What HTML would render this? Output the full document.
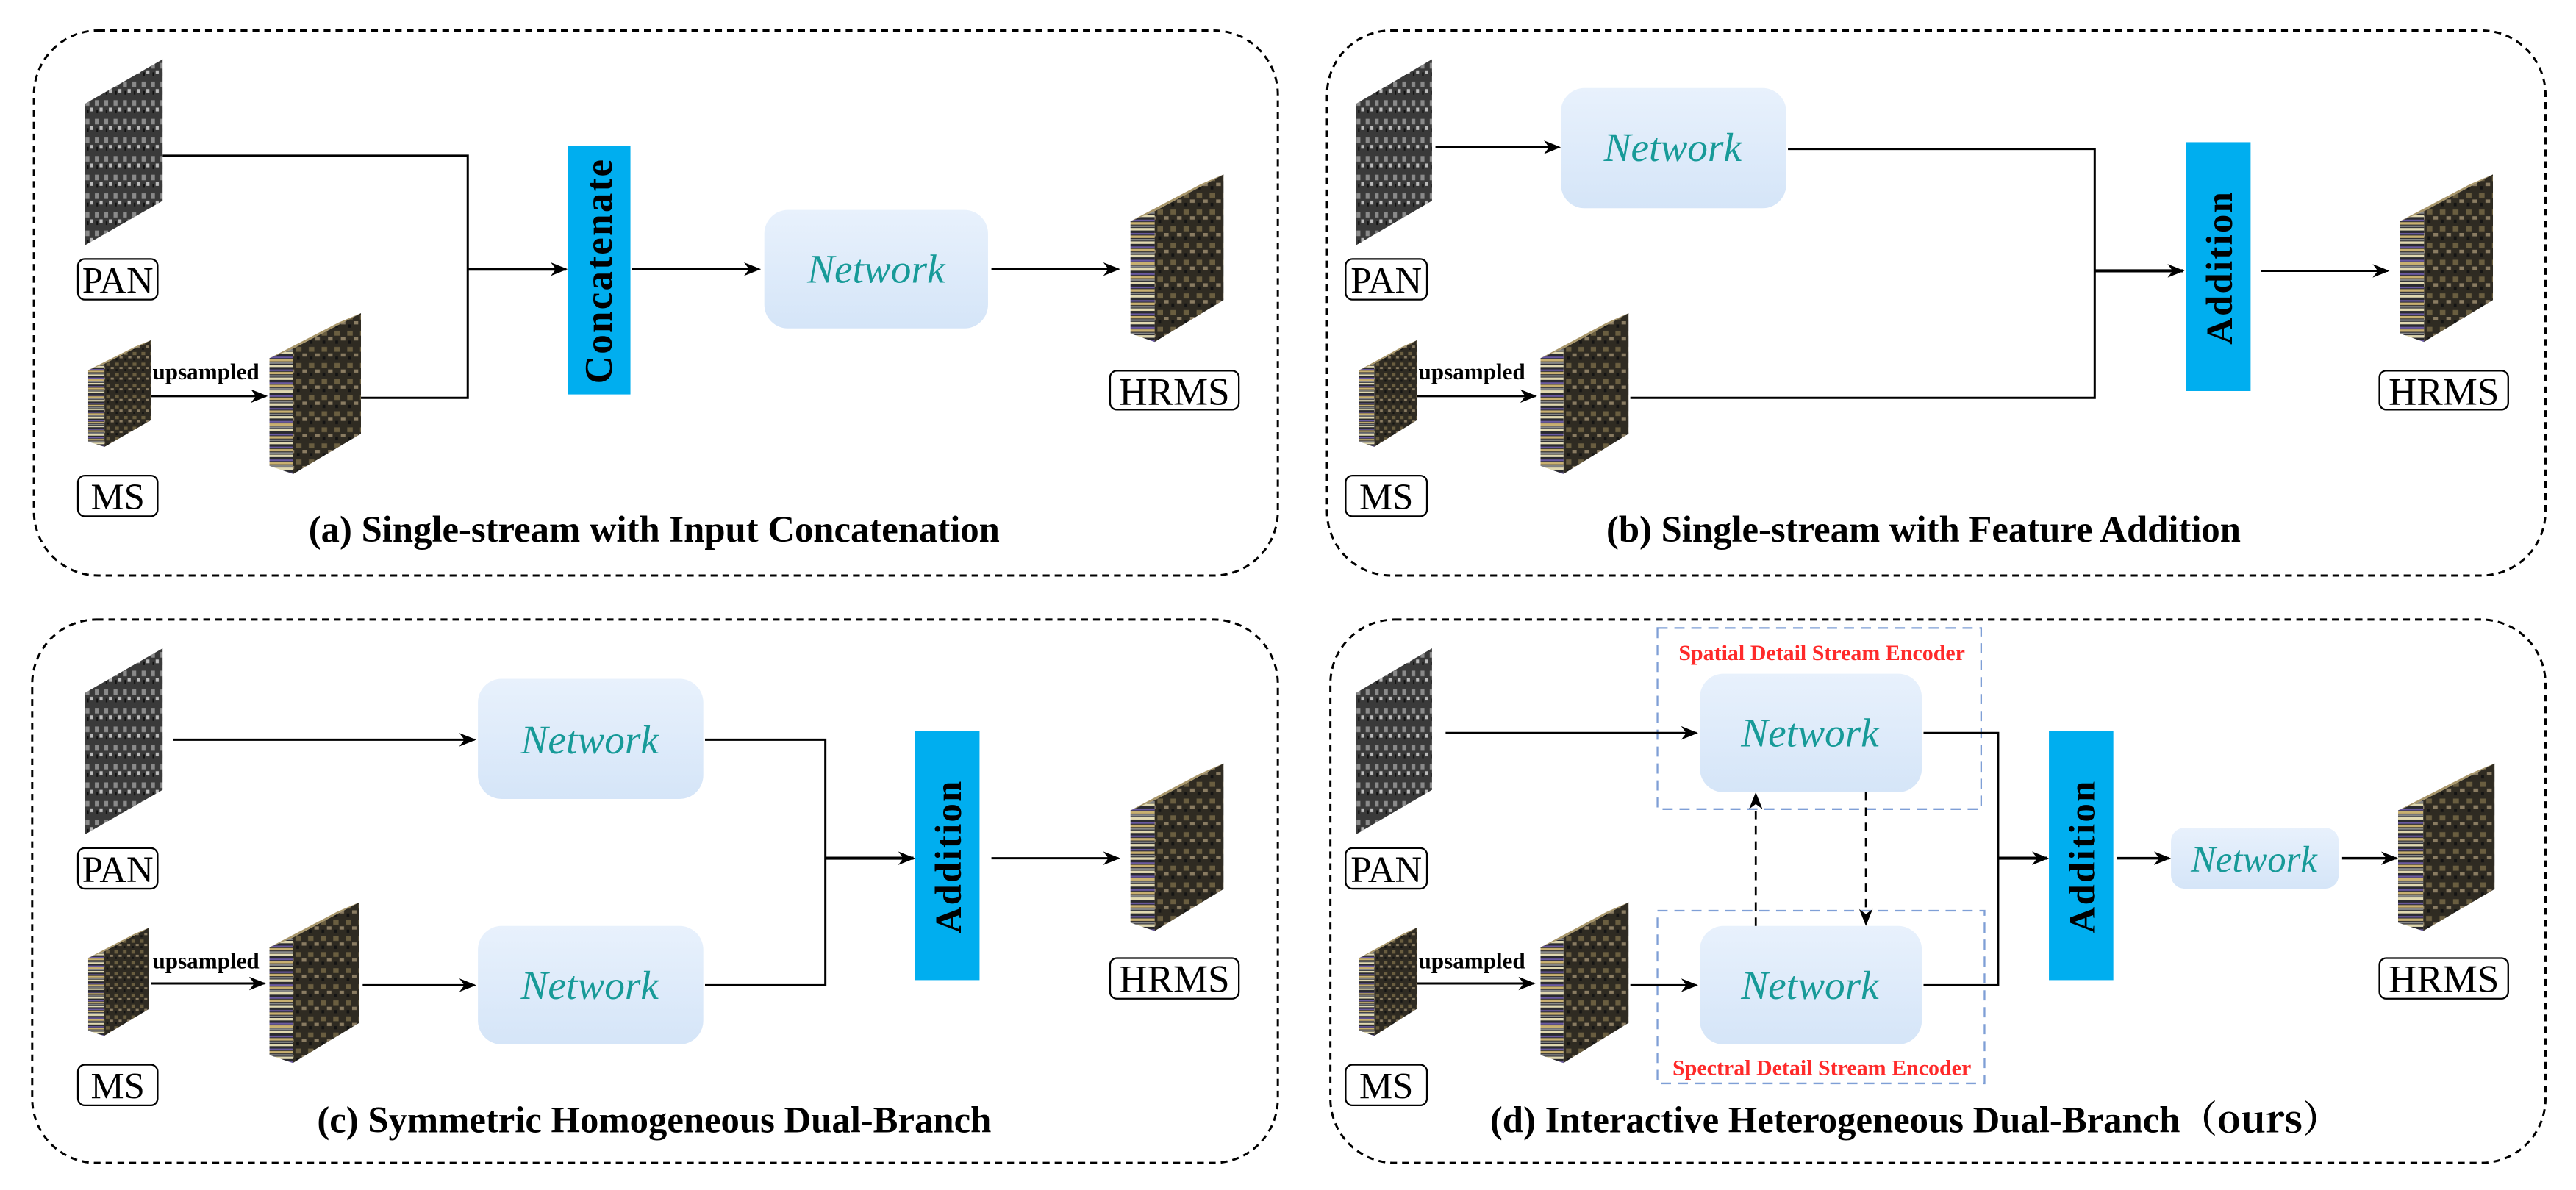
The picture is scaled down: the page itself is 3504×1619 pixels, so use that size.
<!DOCTYPE html>
<html><head><meta charset="utf-8"><style>
html,body{margin:0;padding:0;background:#fff;}
svg{display:block;}
.t{font-family:"Liberation Serif",serif;font-weight:bold;font-size:22px;fill:#000;}
.lb{font-family:"Liberation Serif",serif;font-size:22px;fill:#000;}
.hr{font-family:"Liberation Serif",serif;font-size:23px;fill:#000;}
.nw{font-family:"Liberation Serif",serif;font-style:italic;font-size:24px;fill:#179a98;}
.up{font-family:"Liberation Serif",serif;font-weight:bold;font-size:13.5px;fill:#000;}
.red{font-family:"Liberation Serif",serif;font-weight:bold;font-size:13px;fill:#ff2a2a;}
.bar{font-family:"Liberation Serif",serif;font-weight:bold;font-size:22px;fill:#000;}
</style></head><body>
<svg width="3504" height="1619" viewBox="0 0 1520 703" preserveAspectRatio="none" xmlns="http://www.w3.org/2000/svg">
<defs>
<marker id="ar" markerWidth="10" markerHeight="10" refX="9" refY="5" orient="auto" markerUnits="userSpaceOnUse"><path d="M0,1 L10,5 L0,9 L3,5 z" fill="#000"/></marker>
<linearGradient id="ng" x1="0" y1="0" x2="0" y2="1"><stop offset="0" stop-color="#e8f1fc"/><stop offset="1" stop-color="#d5e5f8"/></linearGradient>
<pattern id="gp" width="12" height="10" patternUnits="userSpaceOnUse"><rect width="12" height="10" fill="#3a3a3a"/><rect x="1" y="2" width="5" height="3" fill="#8a8a8a"/><rect x="7" y="6" width="4" height="2" fill="#bbb"/><rect x="3" y="7" width="2" height="2" fill="#111"/></pattern>
<pattern id="cp" width="14" height="10" patternUnits="userSpaceOnUse"><rect width="14" height="10" fill="#2f2b22"/><rect x="1" y="1" width="6" height="3" fill="#6a5e40"/><rect x="8" y="5" width="5" height="2" fill="#8a7c62"/><rect x="2" y="7" width="3" height="2" fill="#141414"/></pattern>
<pattern id="sp" width="10" height="8" patternUnits="userSpaceOnUse"><rect width="10" height="8" fill="#2a2a30"/><rect y="0" width="10" height="1.5" fill="#e0d8b0"/><rect y="3" width="10" height="1" fill="#6a5aa0"/><rect y="4.5" width="10" height="1.5" fill="#c8b070"/><rect y="6.5" width="10" height="1" fill="#888"/></pattern>
<symbol id="pan" viewBox="0 0 100 100" preserveAspectRatio="none"><polygon points="0,24 100,0 100,76 0,100" fill="url(#gp)"/></symbol>
<symbol id="cube" viewBox="0 0 100 100" preserveAspectRatio="none"><polygon points="26,22 100,0 100,75 26,100" fill="url(#cp)"/><polygon points="0,28 26,22 26,100 0,95" fill="url(#sp)"/><polygon points="0,28 75,6 100,0 26,22" fill="#a8966a"/></symbol>
</defs>
<g fill="none" stroke="#000" stroke-width="1.3" stroke-dasharray="4,3">
<rect x="20" y="18" width="734" height="322" rx="38"/>
<rect x="783" y="18" width="719" height="322" rx="38"/>
<rect x="19" y="366" width="735" height="321" rx="38"/>
<rect x="785" y="366" width="717" height="321" rx="38"/>
</g>
<!-- panel a -->
<use href="#pan" x="50" y="35" width="46" height="110"/>
<rect x="46" y="153" width="47" height="24" rx="4" fill="none" stroke="#000"/><text class="lb" x="69.5" y="173" text-anchor="middle">PAN</text>
<use href="#cube" x="52" y="201" width="37" height="63"/>
<rect x="46" y="281" width="47" height="24" rx="4" fill="none" stroke="#000"/><text class="lb" x="69.5" y="301" text-anchor="middle">MS</text>
<text class="up" x="90" y="224">upsampled</text>
<line x1="89" y1="234" x2="157" y2="234" stroke="#000" stroke-width="1.3" marker-end="url(#ar)"/>
<use href="#cube" x="159" y="185" width="54" height="95"/>
<polyline points="96,92 276,92 276,235 213,235" fill="none" stroke="#000" stroke-width="1.3"/>
<line x1="276" y1="159" x2="334" y2="159" stroke="#000" stroke-width="1.8" marker-end="url(#ar)"/>
<rect x="335" y="86" width="37" height="147" fill="#00aeef"/>
<text class="bar" transform="translate(361,160) rotate(-90)" text-anchor="middle" style="font-size:23px;letter-spacing:1px">Concatenate</text>
<line x1="373" y1="159" x2="448" y2="159" stroke="#000" stroke-width="1.3" marker-end="url(#ar)"/>
<rect x="451" y="124" width="132" height="70" rx="14" fill="url(#ng)"/><text class="nw" x="517" y="167" text-anchor="middle">Network</text>
<line x1="585" y1="159" x2="660" y2="159" stroke="#000" stroke-width="1.3" marker-end="url(#ar)"/>
<use href="#cube" x="667" y="103" width="55" height="99"/>
<rect x="655" y="219" width="76" height="23" rx="4" fill="none" stroke="#000"/><text class="hr" x="693" y="239" text-anchor="middle">HRMS</text>
<text class="t" x="386" y="320" text-anchor="middle">(a) Single-stream with Input Concatenation</text>
<!-- panel b -->
<use href="#pan" x="800" y="35" width="45" height="110"/>
<rect x="794" y="153" width="48" height="24" rx="4" fill="none" stroke="#000"/><text class="lb" x="818" y="173" text-anchor="middle">PAN</text>
<line x1="847" y1="87" x2="920" y2="87" stroke="#000" stroke-width="1.3" marker-end="url(#ar)"/>
<rect x="921" y="52" width="133" height="71" rx="14" fill="url(#ng)"/><text class="nw" x="987" y="95" text-anchor="middle">Network</text>
<polyline points="1055,88 1236,88 1236,235 962,235" fill="none" stroke="#000" stroke-width="1.3"/>
<use href="#cube" x="802" y="201" width="34" height="63"/>
<rect x="794" y="281" width="48" height="24" rx="4" fill="none" stroke="#000"/><text class="lb" x="818" y="301" text-anchor="middle">MS</text>
<text class="up" x="837" y="224">upsampled</text>
<line x1="836" y1="234" x2="906" y2="234" stroke="#000" stroke-width="1.3" marker-end="url(#ar)"/>
<use href="#cube" x="909" y="185" width="52" height="95"/>
<line x1="1236" y1="160" x2="1288" y2="160" stroke="#000" stroke-width="1.8" marker-end="url(#ar)"/>
<rect x="1290" y="84" width="38" height="147" fill="#00aeef"/>
<text class="bar" transform="translate(1317,158) rotate(-90)" text-anchor="middle" style="letter-spacing:1px">Addition</text>
<line x1="1334" y1="160" x2="1409" y2="160" stroke="#000" stroke-width="1.3" marker-end="url(#ar)"/>
<use href="#cube" x="1416" y="103" width="55" height="99"/>
<rect x="1404" y="219" width="76" height="23" rx="4" fill="none" stroke="#000"/><text class="hr" x="1442" y="239" text-anchor="middle">HRMS</text>
<text class="t" x="1135" y="320" text-anchor="middle">(b) Single-stream with Feature Addition</text>
<!-- panel c -->
<use href="#pan" x="50" y="383" width="46" height="110"/>
<rect x="46" y="501" width="47" height="24" rx="4" fill="none" stroke="#000"/><text class="lb" x="69.5" y="521" text-anchor="middle">PAN</text>
<line x1="102" y1="437" x2="280" y2="437" stroke="#000" stroke-width="1.3" marker-end="url(#ar)"/>
<rect x="282" y="401" width="133" height="71" rx="14" fill="url(#ng)"/><text class="nw" x="348" y="445" text-anchor="middle">Network</text>
<polyline points="416,437 487,437 487,582 416,582" fill="none" stroke="#000" stroke-width="1.3"/>
<use href="#cube" x="52" y="548" width="36" height="64"/>
<rect x="46" y="629" width="47" height="24" rx="4" fill="none" stroke="#000"/><text class="lb" x="69.5" y="649" text-anchor="middle">MS</text>
<text class="up" x="90" y="572">upsampled</text>
<line x1="89" y1="581" x2="156" y2="581" stroke="#000" stroke-width="1.3" marker-end="url(#ar)"/>
<use href="#cube" x="159" y="533" width="53" height="95"/>
<line x1="214" y1="582" x2="280" y2="582" stroke="#000" stroke-width="1.3" marker-end="url(#ar)"/>
<rect x="282" y="547" width="133" height="70" rx="14" fill="url(#ng)"/><text class="nw" x="348" y="590" text-anchor="middle">Network</text>
<line x1="487" y1="507" x2="539" y2="507" stroke="#000" stroke-width="1.8" marker-end="url(#ar)"/>
<rect x="540" y="432" width="38" height="147" fill="#00aeef"/>
<text class="bar" transform="translate(567,506) rotate(-90)" text-anchor="middle" style="letter-spacing:1px">Addition</text>
<line x1="585" y1="507" x2="660" y2="507" stroke="#000" stroke-width="1.3" marker-end="url(#ar)"/>
<use href="#cube" x="667" y="451" width="55" height="99"/>
<rect x="655" y="566" width="76" height="24" rx="4" fill="none" stroke="#000"/><text class="hr" x="693" y="586" text-anchor="middle">HRMS</text>
<text class="t" x="386" y="669" text-anchor="middle">(c) Symmetric Homogeneous Dual-Branch</text>
<!-- panel d -->
<use href="#pan" x="800" y="383" width="45" height="110"/>
<rect x="794" y="501" width="48" height="24" rx="4" fill="none" stroke="#000"/><text class="lb" x="818" y="521" text-anchor="middle">PAN</text>
<g fill="none" stroke="#7f9fd6" stroke-width="1" stroke-dasharray="6,4">
<rect x="978" y="371" width="191" height="107"/>
<rect x="978" y="538" width="193" height="102"/>
</g>
<text class="red" x="1075" y="390" text-anchor="middle">Spatial Detail Stream Encoder</text>
<text class="red" x="1075" y="635" text-anchor="middle">Spectral Detail Stream Encoder</text>
<line x1="853" y1="433" x2="1001" y2="433" stroke="#000" stroke-width="1.3" marker-end="url(#ar)"/>
<rect x="1003" y="398" width="131" height="70" rx="14" fill="url(#ng)"/><text class="nw" x="1068" y="441" text-anchor="middle">Network</text>
<polyline points="1135,433 1179,433 1179,582 1135,582" fill="none" stroke="#000" stroke-width="1.3"/>
<use href="#cube" x="802" y="548" width="34" height="64"/>
<rect x="794" y="629" width="48" height="24" rx="4" fill="none" stroke="#000"/><text class="lb" x="818" y="649" text-anchor="middle">MS</text>
<text class="up" x="837" y="572">upsampled</text>
<line x1="836" y1="581" x2="905" y2="581" stroke="#000" stroke-width="1.3" marker-end="url(#ar)"/>
<use href="#cube" x="909" y="533" width="52" height="95"/>
<line x1="962" y1="582" x2="1001" y2="582" stroke="#000" stroke-width="1.3" marker-end="url(#ar)"/>
<rect x="1003" y="547" width="131" height="70" rx="14" fill="url(#ng)"/><text class="nw" x="1068" y="590" text-anchor="middle">Network</text>
<line x1="1036" y1="547" x2="1036" y2="469" stroke="#000" stroke-width="1.2" stroke-dasharray="5,4" marker-end="url(#ar)"/>
<line x1="1101" y1="468" x2="1101" y2="546" stroke="#000" stroke-width="1.2" stroke-dasharray="5,4" marker-end="url(#ar)"/>
<line x1="1179" y1="507" x2="1208" y2="507" stroke="#000" stroke-width="1.8" marker-end="url(#ar)"/>
<rect x="1209" y="432" width="38" height="147" fill="#00aeef"/>
<text class="bar" transform="translate(1236,506) rotate(-90)" text-anchor="middle" style="letter-spacing:1px">Addition</text>
<line x1="1249" y1="507" x2="1280" y2="507" stroke="#000" stroke-width="1.5" marker-end="url(#ar)"/>
<rect x="1281" y="489" width="99" height="36" rx="8" fill="url(#ng)"/><text class="nw" x="1330" y="515" text-anchor="middle" style="font-size:22px">Network</text>
<line x1="1382" y1="507" x2="1414" y2="507" stroke="#000" stroke-width="1.5" marker-end="url(#ar)"/>
<use href="#cube" x="1415" y="451" width="57" height="99"/>
<rect x="1404" y="566" width="76" height="24" rx="4" fill="none" stroke="#000"/><text class="hr" x="1442" y="586" text-anchor="middle">HRMS</text>
<text class="t" x="1130" y="669" text-anchor="middle">(d) Interactive Heterogeneous Dual-Branch<tspan font-family="Noto Serif CJK SC, serif">（ours）</tspan></text>
</svg>
</body></html>
